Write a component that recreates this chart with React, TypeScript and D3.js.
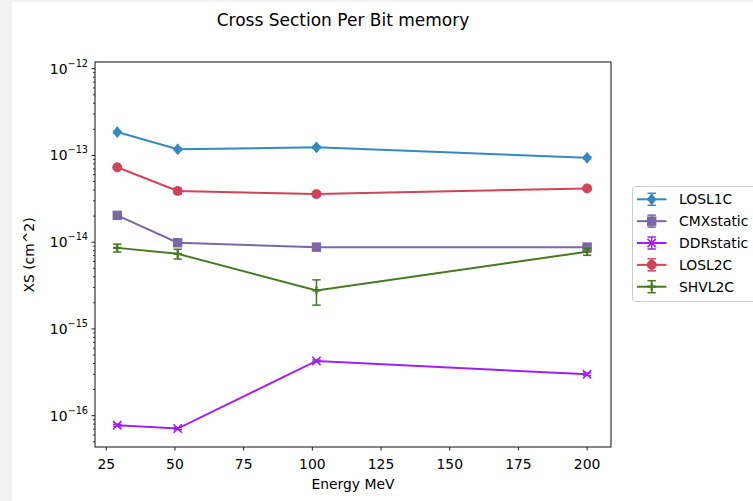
import React from "react";
import * as d3 from "d3";

const energies = [29, 51, 101.5, 200];
const seriesNames = ["LOSL1C", "CMXstatic", "DDRstatic", "LOSL2C", "SHVL2C"];
const colors = ["#348ABD", "#7A68A6", "#A020F0", "#D0435A", "#467821"];
const markers = ["diamond", "square", "x", "circle", "plus"];
const losl1c = [1.86e-13, 1.18e-13, 1.24e-13, 9.4e-14];
const losl1cErr = [0.5e-14, 0.4e-14, 0.4e-14, 0.3e-14];
const cmxstatic = [2.04e-14, 9.85e-15, 8.77e-15, 8.77e-15];
const cmxstaticErr = [0.4e-15, 0.3e-15, 0.3e-15, 0.3e-15];
const ddrstatic = [7.76e-17, 7.1e-17, 4.28e-16, 3.0e-16];
const ddrstaticErr = [0.2e-17, 0.2e-17, 0.1e-16, 0.1e-16];
const losl2c = [7.3e-14, 3.9e-14, 3.59e-14, 4.17e-14];
const losl2cErr = [0.15e-14, 0.3e-14, 0.2e-14, 0.12e-14];
const shvl2c = [8.6e-15, 7.34e-15, 2.78e-15, 7.76e-15];
const shvl2cErr = [0.9e-15, 0.95e-15, 0.9e-15, 0.7e-15];
const xTicks = [25, 50, 75, 100, 125, 150, 175, 200];
const yDecades = [-16, -15, -14, -13, -12];

const values = [losl1c, cmxstatic, ddrstatic, losl2c, shvl2c];
const errs = [losl1cErr, cmxstaticErr, ddrstaticErr, losl2cErr, shvl2cErr];

const L = 95, R = 611, T = 62, B = 447;
const FONT = "DejaVu Sans, sans-serif";

function Marker({ type, x, y, color }: { type: string; x: number; y: number; color: string }) {
  if (type === "diamond") {
    const h = 5.4, w = 4.2;
    return <path d={`M${x},${y - h}L${x + w},${y}L${x},${y + h}L${x - w},${y}Z`} fill={color} stroke={color} strokeWidth={1} />;
  }
  if (type === "square") {
    const s = 4.2;
    return <rect x={x - s} y={y - s} width={2 * s} height={2 * s} fill={color} stroke={color} strokeWidth={1} />;
  }
  if (type === "circle") {
    return <circle cx={x} cy={y} r={4.5} fill={color} stroke={color} strokeWidth={1} />;
  }
  if (type === "x") {
    const s = 4.15;
    return <path d={`M${x - s},${y - s}L${x + s},${y + s}M${x - s},${y + s}L${x + s},${y - s}`} stroke={color} strokeWidth={1.6} fill="none" />;
  }
  const s = 4.15;
  return <path d={`M${x - s},${y}L${x + s},${y}M${x},${y - s}L${x},${y + s}`} stroke={color} strokeWidth={2.2} fill="none" />;
}

export default function App() {
  const x = d3.scaleLinear().domain([20.9, 208.7]).range([L, R]);
  const y = d3.scaleLog().domain([Math.pow(10, -16.361), Math.pow(10, -11.9227)]).range([B, T]);
  const line = d3.line<number>().x((_, i) => x(energies[i])).y((v) => y(v));

  const minorTicks: number[] = [];
  for (let e = -17; e <= -12; e++) {
    for (let m = 2; m <= 9; m++) {
      const v = m * Math.pow(10, e);
      const py = y(v);
      if (py >= T && py <= B) minorTicks.push(v);
    }
  }

  const capW = 4.2;
  return (
    <svg width={753} height={501} style={{ position: "absolute", left: 0, top: 0 }} fontFamily={FONT}>
      <rect x={0} y={0} width={753} height={501} fill="#f2f2f2" />
      <rect x={12} y={2} width={741} height={499} fill="#ffffff" />
      <text x={343} y={26} fontSize={17} textAnchor="middle" fill="#000">Cross Section Per Bit memory</text>

      {minorTicks.map((v, i) => (
        <line key={"mn" + i} x1={L - 2} x2={L} y1={y(v)} y2={y(v)} stroke="#000" strokeWidth={0.8} />
      ))}
      {yDecades.map((e) => {
        const py = y(Math.pow(10, e));
        return (
          <g key={"yd" + e}>
            <line x1={L - 3.5} x2={L} y1={py} y2={py} stroke="#000" strokeWidth={0.9} />
            <text x={L - 7} y={py + 5} fontSize={13.9} textAnchor="end" fill="#000">
              10<tspan fontSize={9.7} dy={-7}>{"\u2212" + Math.abs(e)}</tspan>
            </text>
          </g>
        );
      })}
      {xTicks.map((t) => (
        <g key={"xt" + t}>
          <line x1={x(t)} x2={x(t)} y1={B} y2={B + 3.5} stroke="#000" strokeWidth={0.9} />
          <text x={x(t)} y={B + 22} fontSize={13.9} textAnchor="middle" fill="#000">{t}</text>
        </g>
      ))}
      <text x={353} y={489} fontSize={13.9} textAnchor="middle" fill="#000">Energy MeV</text>
      <text transform={`translate(34,255) rotate(-90)`} fontSize={13.9} textAnchor="middle" fill="#000">XS (cm^2)</text>

      {values.map((vals, si) => (
        <g key={"s" + si}>
          {vals.map((v, i) => {
            const px = x(energies[i]);
            const y1 = y(v + errs[si][i]);
            const y2 = y(v - errs[si][i]);
            return (
              <g key={"e" + i}>
                <line x1={px} x2={px} y1={y1} y2={y2} stroke={colors[si]} strokeWidth={1.5} />
                <line x1={px - capW} x2={px + capW} y1={y1} y2={y1} stroke={colors[si]} strokeWidth={1.5} />
                <line x1={px - capW} x2={px + capW} y1={y2} y2={y2} stroke={colors[si]} strokeWidth={1.5} />
              </g>
            );
          })}
          <path d={line(vals) || ""} fill="none" stroke={colors[si]} strokeWidth={2} />
          {vals.map((v, i) => (
            <Marker key={"m" + i} type={markers[si]} x={x(energies[i])} y={y(v)} color={colors[si]} />
          ))}
        </g>
      ))}

      <rect x={L} y={T} width={R - L} height={B - T} fill="none" stroke="#222" strokeWidth={1.1} />

      <rect x={632.5} y={186.5} width={130} height={115} rx={3} fill="#fff" fillOpacity={0.8} stroke="#cccccc" strokeWidth={1} />
      {seriesNames.map((name, i) => {
        const cy = 199.3 + i * 21.85;
        const c = colors[i];
        return (
          <g key={"lg" + i}>
            <line x1={637} x2={666.5} y1={cy} y2={cy} stroke={c} strokeWidth={2} />
            <line x1={651.7} x2={651.7} y1={cy - 6} y2={cy + 6} stroke={c} strokeWidth={1.5} />
            <line x1={651.7 - capW} x2={651.7 + capW} y1={cy - 6} y2={cy - 6} stroke={c} strokeWidth={1.5} />
            <line x1={651.7 - capW} x2={651.7 + capW} y1={cy + 6} y2={cy + 6} stroke={c} strokeWidth={1.5} />
            <Marker type={markers[i]} x={651.7} y={cy} color={c} />
            <text x={679} y={cy + 5} fontSize={13.9} fill="#000">{name}</text>
          </g>
        );
      })}
    </svg>
  );
}
